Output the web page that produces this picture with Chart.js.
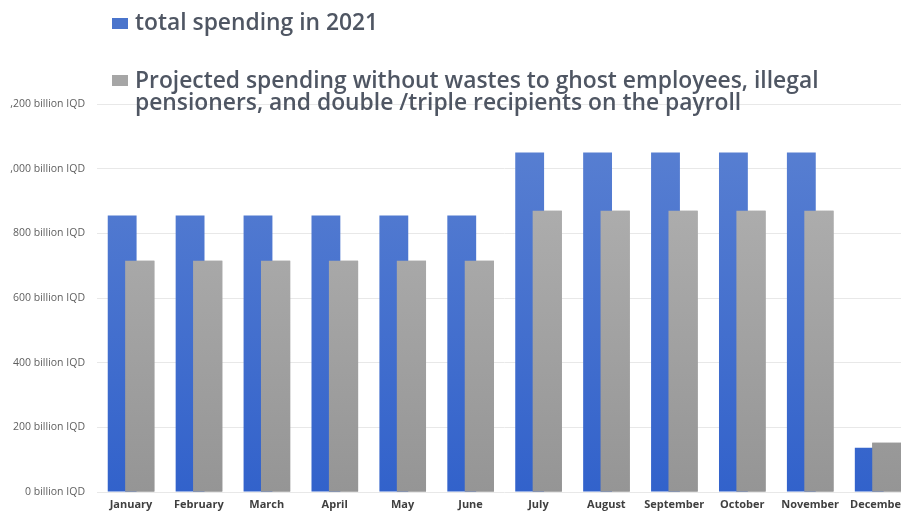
<!DOCTYPE html>
<html>
<head>
<meta charset="utf-8">
<script src="https://cdn.jsdelivr.net/npm/chart.js@4.4.1/dist/chart.umd.min.js"></script>
<style>
  html, body { margin: 0; padding: 0; background: #ffffff; overflow: hidden; width: 901px; height: 513px; }
  #wrap { position: absolute; left: 10px; top: 0; width: 905px; height: 513px; }
  canvas { display: block; }
</style>
</head>
<body>
<div id="wrap"><canvas id="chart" width="905" height="513"></canvas></div>
<script>
// Monthly payroll spending, in billion IQD
const months = ['January', 'February', 'March', 'April', 'May', 'June',
                'July', 'August', 'September', 'October', 'November', 'December'];
const totalSpending2021 = [855, 855, 855, 855, 855, 855, 1050, 1050, 1050, 1050, 1050, 137];
const projectedSpending = [715, 715, 715, 715, 715, 715, 870, 870, 870, 870, 870, 152];
const yTickValues = [0, 200, 400, 600, 800, 1000, 1200];

const seriesLabels = [
  ['total spending in 2021'],
  ['Projected spending without wastes to ghost employees, illegal',
   'pensioners, and double /triple recipients on the payroll']
];

function verticalGradient(top, bottom, ctx, area) {
  if (!area) return top;
  const g = ctx.createLinearGradient(0, area.top, 0, area.bottom);
  g.addColorStop(0, top);
  g.addColorStop(1, bottom);
  return g;
}

// The projected bars overlap the right half of the total bars and sit in front of them
const projectedOnTop = {
  id: 'projectedOnTop',
  afterDatasetsDraw(chart) {
    const ctx = chart.ctx;
    ctx.save();
    const area = chart.chartArea;
    ctx.beginPath();
    ctx.rect(area.left, area.top - 2, area.right - area.left, area.bottom - area.top + 2);
    ctx.clip();
    chart.getDatasetMeta(1).data.forEach(el => el.draw(ctx));
    ctx.restore();
  }
};

// Legend drawn over the top band, with the long label wrapped on two lines
const wrappedLegend = {
  id: 'wrappedLegend',
  afterDraw(chart) {
    const ctx = chart.ctx;
    const family = '"Open Sans", "DejaVu Sans", sans-serif';
    ctx.save();
    ctx.font = '600 20px ' + family;
    const w = ctx.measureText(seriesLabels[1][0]).width;
    const size = 20 * 684 / w;
    ctx.font = '600 ' + size.toFixed(2) + 'px ' + family;
    ctx.textBaseline = 'alphabetic';
    ctx.textAlign = 'left';

    const items = [
      { color: '#4a74cc', boxY: 18, baselines: [30] },
      { color: '#a6a6a6', boxY: 75, baselines: [88, 110] }
    ];
    items.forEach((it, i) => {
      ctx.fillStyle = it.color;
      ctx.fillRect(102, it.boxY, 16, 11);
      ctx.fillStyle = '#4f5663';
      seriesLabels[i].forEach((line, j) => ctx.fillText(line, 125, it.baselines[j]));
    });
    ctx.restore();
  }
};

new Chart(document.getElementById('chart'), {
  type: 'bar',
  data: {
    labels: months,
    datasets: [
      {
        label: seriesLabels[0].join(' '),
        data: totalSpending2021,
        backgroundColor: (c) => verticalGradient('#5c82d2', '#3262cb', c.chart.ctx, c.chart.chartArea),
        categoryPercentage: 0.518,
        barPercentage: 1.64
      },
      {
        label: seriesLabels[1].join(' '),
        data: projectedSpending,
        backgroundColor: (c) => verticalGradient('#b5b5b5', '#959595', c.chart.ctx, c.chart.chartArea),
        categoryPercentage: 0.518,
        barPercentage: 1.66
      }
    ]
  },
  options: {
    responsive: false,
    animation: false,
    layout: { padding: { top: 104, right: 3, bottom: 2, left: 0 } },
    plugins: {
      legend: { display: false },
      tooltip: { enabled: false },
      title: { display: false }
    },
    scales: {
      x: {
        afterFit(scale) { scale.height = 19; },
        grid: { display: false, drawTicks: false },
        border: { display: false },
        ticks: {
          padding: 6,
          maxRotation: 0,
          autoSkip: false,
          color: '#3f3f3f',
          font: { family: '"Open Sans", sans-serif', size: 11, weight: 'bold' }
        }
      },
      y: {
        min: 0,
        max: 1200,
        afterFit(scale) { scale.width = 87; },
        afterBuildTicks(scale) { scale.ticks = yTickValues.map(v => ({ value: v })); },
        grid: { color: '#e8e8e8', lineWidth: 1, drawTicks: false },
        border: { display: false },
        ticks: {
          padding: 12,
          color: '#5f5f5f',
          font: { family: '"Open Sans", sans-serif', size: 10.5 },
          callback: (v) => v.toLocaleString('en-US') + ' billion IQD'
        }
      }
    }
  },
  plugins: [projectedOnTop, wrappedLegend]
});
</script>
</body>
</html>
